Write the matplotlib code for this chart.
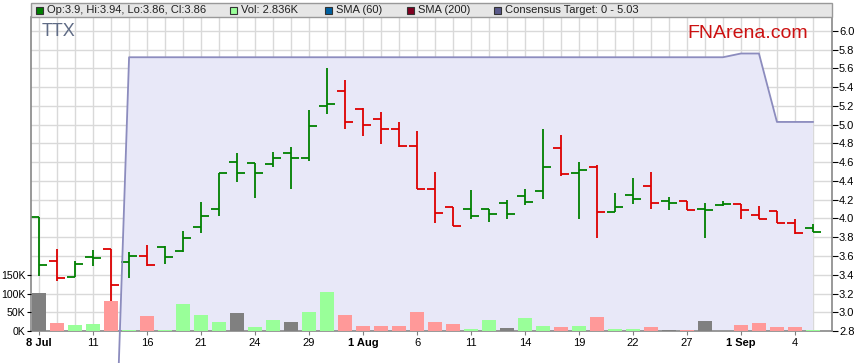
import numpy as np
import matplotlib
matplotlib.use("Agg")
import matplotlib.pyplot as plt
from matplotlib.patches import Rectangle

plt.rcParams['font.family'] = ['Liberation Sans', 'DejaVu Sans']

# trading days 8 Jul - 5 Sep
days = [8, 9, 10, 11, 14, 15, 16, 17, 18, 21, 22, 23, 24, 25, 28, 29, 30, 31,
        1, 4, 5, 6, 7, 8, 11, 12, 13, 14, 15, 18, 19, 20, 21, 22, 25, 26, 27, 28, 29,
        1, 2, 3, 4, 5]
months = ['Jul'] * 18 + ['Aug'] * 21 + ['Sep'] * 5

opens = [4.02, 3.55, 3.38, 3.59, 3.67, 3.54, 3.60, 3.70, 3.65, 3.91, 4.10, 4.60,
         4.59, 4.58, 4.70, 4.65, 5.20, 5.36, 5.17, 5.06, 4.95, 4.77, 4.32, 4.12,
         4.10, 4.10, 4.17, 4.24, 4.29, 4.75, 4.49, 4.55, 4.07, 4.25, 4.35, 4.19,
         4.19, 4.10, 4.14, 4.16, 4.04, 4.08, 3.95, 3.90]
highs = [4.02, 3.68, 3.55, 3.66, 3.67, 3.64, 3.72, 3.71, 3.87, 4.18, 4.49, 4.70,
         4.59, 4.71, 4.76, 5.16, 5.61, 5.48, 5.18, 5.14, 5.03, 4.93, 4.50, 4.12,
         4.30, 4.10, 4.20, 4.32, 4.96, 4.89, 4.60, 4.57, 4.27, 4.43, 4.50, 4.23,
         4.19, 4.17, 4.19, 4.16, 4.13, 4.08, 3.99, 3.94]
lows = [3.39, 3.33, 3.38, 3.49, 3.12, 3.37, 3.49, 3.51, 3.64, 3.85, 4.03, 4.39,
        4.22, 4.55, 4.31, 4.61, 5.12, 4.96, 4.88, 4.80, 4.76, 4.31, 3.95, 3.92,
        3.99, 3.96, 3.99, 4.14, 4.21, 4.45, 3.99, 3.79, 4.07, 4.15, 4.10, 4.09,
        4.09, 3.79, 4.13, 3.99, 4.00, 3.95, 3.84, 3.86]
closes = [3.50, 3.37, 3.51, 3.58, 3.29, 3.60, 3.50, 3.59, 3.79, 4.03, 4.48, 4.48,
          4.49, 4.65, 4.65, 4.99, 5.22, 5.03, 5.00, 4.95, 4.77, 4.32, 4.06, 3.92,
          4.03, 4.05, 4.05, 4.18, 4.55, 4.47, 4.52, 4.07, 4.12, 4.21, 4.17, 4.17,
          4.09, 4.09, 4.16, 4.09, 4.00, 3.95, 3.85, 3.86]
volumes_k = [102, 21, 16, 19, 80, 4, 40, 2, 72, 43, 24, 48, 11, 29, 24, 51, 104,
             43, 13, 13, 13, 51, 24, 19, 5, 29, 8, 35, 13, 11, 13, 37, 5, 5, 11,
             2, 3, 27, 0.5, 16, 21, 11, 11, 2.836]
consensus = [0, 0, 0, 0, 0, 5.72, 5.72, 5.72, 5.72, 5.72, 5.72, 5.72, 5.72, 5.72,
             5.72, 5.72, 5.72, 5.72, 5.72, 5.72, 5.72, 5.72, 5.72, 5.72, 5.72, 5.72,
             5.72, 5.72, 5.72, 5.72, 5.72, 5.72, 5.72, 5.72, 5.72, 5.72, 5.72, 5.72,
             5.72, 5.76, 5.76, 5.03, 5.03, 5.03]

W, H = 859, 363
fig = plt.figure(figsize=(W / 100, H / 100), dpi=100)
fig.patch.set_facecolor('white')

def fx(x):
    return x / W

def fy(y):
    return 1 - y / H

ax = fig.add_axes([fx(31), fy(331), fx(832) - fx(31), fy(17) - fy(331)])
axv = ax.twinx()

x = np.arange(len(closes))
prev = [closes[0]] + closes[:-1]
chg = [round(c - p, 3) for c, p in zip(closes, prev)]
bar_cols = ['#008000' if d >= 0 else '#dd0000' for d in chg]
vol_cols = ['#99ff99' if d > 0 else ('#ff9999' if d < 0 else '#808080') for d in chg]

# consensus target band
ax.fill_between(x, 0, consensus, color='#e8e8f8', lw=0, zorder=1)
ax.plot(x, consensus, color='#8c8cbe', lw=1.3, zorder=3, clip_on=False)

# OHLC bars
tick = 0.46
ax.vlines(x, lows, highs, colors=bar_cols, lw=1.3, zorder=2)
ax.hlines(opens, x - tick, x, colors=bar_cols, lw=1.3, zorder=2)
ax.hlines(closes, x, x + tick, colors=bar_cols, lw=1.3, zorder=2)

# volume
axv.bar(x, volumes_k, width=0.74, color=vol_cols, zorder=2)

ax.set_xlim(-0.45, 44.06)
ax.set_ylim(2.8, 2.8 + 314 / 93.75)
axv.set_ylim(0, 314 / 18.75 * 50)

ax.yaxis.tick_right()
axv.yaxis.tick_left()
ax.set_yticks(np.arange(2.8, 6.01, 0.2))
ax.set_yticklabels([f'{v:.1f}' for v in np.arange(2.8, 6.01, 0.2)])
axv.set_yticks([0, 50, 100, 150])
axv.set_yticklabels(['0K', '50K', '100K', '150K'])

lab_idx = list(range(0, len(days), 3))
labels = []
bold = []
for i in lab_idx:
    if i == 0 or months[i] != months[i - 3]:
        labels.append(f'{days[i]} {months[i]}')
        bold.append(True)
    else:
        labels.append(str(days[i]))
        bold.append(False)
ax.set_xticks(lab_idx)
ax.set_xticklabels(labels)
for t, b in zip(ax.get_xticklabels(), bold):
    if b:
        t.set_fontweight('bold')
ax.set_xticks(x, minor=True)

ax.set_axisbelow(True)
ax.grid(True, which='both', axis='x', color='#d9d9d9', lw=1)
ax.grid(True, which='major', axis='y', color='#d9d9d9', lw=1)

ax.tick_params(axis='y', which='major', length=4, pad=1, labelsize=8, colors='black')
ax.tick_params(axis='x', which='major', length=3, pad=2, labelsize=8, color='#808080')
ax.tick_params(which='minor', length=0)
axv.tick_params(axis='y', length=3, pad=1, labelsize=7.6)

for s in ['left', 'bottom', 'right']:
    ax.spines[s].set_color('#888888')
    ax.spines[s].set_linewidth(1.2)
ax.spines['top'].set_visible(False)
for s in axv.spines.values():
    s.set_visible(False)

# legend strip
fig.patches.append(Rectangle((fx(31), fy(17)), fx(832) - fx(31), fy(3) - fy(17),
                             transform=fig.transFigure, facecolor='#e6e6e6',
                             edgecolor='#999999', lw=1))
legend_items = [
    (36, '#008000', 'Op:3.9, Hi:3.94, Lo:3.86, Cl:3.86'),
    (230, '#99ff99', 'Vol: 2.836K'),
    (325, '#0060a0', 'SMA (60)'),
    (407, '#800020', 'SMA (200)'),
    (494, '#5a5a8a', 'Consensus Target: 0 - 5.03'),
]
for px, col, txt in legend_items:
    fig.patches.append(Rectangle((fx(px), fy(13.5)), fx(7), fy(0) - fy(7),
                                 transform=fig.transFigure, facecolor=col,
                                 edgecolor='#333333', lw=0.8))
    fig.text(fx(px + 11), fy(10), txt, fontsize=8, color='#202020',
             ha='left', va='center')

fig.text(fx(42), fy(32), 'TTX', fontsize=13, color='#5f6b85', ha='left', va='center')
fig.text(fx(808), fy(33), 'FNArena.com', fontsize=14, color='#cc1111',
         ha='right', va='center')

fig.savefig('out.png', dpi=100)
